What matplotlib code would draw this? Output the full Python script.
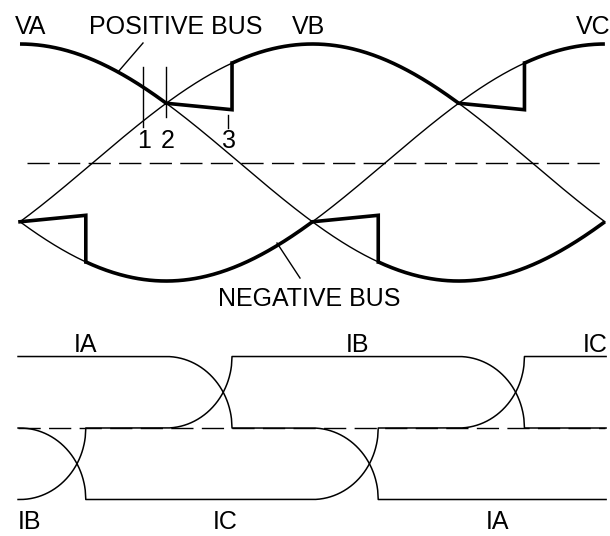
import numpy as np
import matplotlib.pyplot as plt

plt.rcParams["font.family"] = ["Liberation Sans", "DejaVu Sans"]
plt.rcParams["font.size"] = 18

# phase voltages: name, phase angle of the peak (deg)
phases = ["A", "B", "C"]
peak_deg = [0, 120, 240]
amp = 1.0
# natural commutation points and overlap angle (deg)
pos_comm = [60, 180]        # positive bus: A->B, B->C
neg_comm = [0, 120]         # negative bus: B->C, C->A
overlap = 27

# thin / thick pieces of each phase voltage (deg ranges)
thin_parts = {"A": [(60, 147)], "B": [(0, 87), (180, 240)], "C": [(0, 27), (120, 207)]}
thick_parts = {"A": [(0, 60), (147, 240)], "B": [(87, 180)], "C": [(27, 120), (207, 240)]}

# line current levels in each 60 deg step; commutation happens at cur_edges
cur_levels = {
    "A": [1, 1, 0, -1, -1],
    "B": [-1, 0, 1, 1, 0],
    "C": [0, -1, -1, 0, 1],
}
cur_edges = [0, 60, 120, 180]

marks = [50.5, 60, 85.3]
mark_labels = ["1", "2", "3"]

THICK = 2.6
THIN = 1.0


def v(name, th):
    k = phases.index(name)
    return amp * np.cos(np.radians(th - peak_deg[k]))


fig = plt.figure(figsize=(6.1, 5.36), dpi=100)
# px x = 20 + 2.437*deg
x0, sx = 20, 2.437
xlim = (-x0 / sx, (610 - x0) / sx)

# ---------------- voltages ----------------
ax = fig.add_axes([0, 0.4216, 1, 0.5784])
z0, sy = 162.5, 118.5
ax.set_xlim(*xlim)
ax.set_ylim((z0 - 310) / sy, z0 / sy)
ax.axis("off")

for ph in phases:
    for a, b in thin_parts[ph]:
        th = np.linspace(a, b, 200)
        ax.plot(th, v(ph, th), color="black", lw=THIN)
    for a, b in thick_parts[ph]:
        th = np.linspace(a, b, 200)
        ax.plot(th, v(ph, th), color="black", lw=THICK, solid_capstyle="butt")

# overlap segments: average of the two commutating phases, then jump
pairs_pos = [("A", "B"), ("B", "C")]
pairs_neg = [("B", "C"), ("C", "A")]
for start, (p1, p2) in list(zip(pos_comm, pairs_pos)) + list(zip(neg_comm, pairs_neg)):
    th = np.array([start, start + overlap])
    avg = (v(p1, th) + v(p2, th)) / 2
    ax.plot(np.r_[th, th[-1]], np.r_[avg, v(p2, th[-1])], color="black",
            lw=THICK, solid_joinstyle="miter")

ax.plot([(27 - x0) / sx, (605 - x0) / sx], [0, 0], color="black", lw=1.0,
        dashes=(16, 6))

# commutation markers
ax.plot([marks[0]] * 2, [0.806, 0.30], color="black", lw=1.0)
ax.plot([marks[1]] * 2, [0.806, 0.384], color="black", lw=1.0)
ax.plot([marks[2]] * 2, [0.40, 0.29], color="black", lw=1.0)
for m, lab in zip(marks, mark_labels):
    ax.text(m + 0.4, 0.18, lab, ha="center", va="center")

# labels
ax.text((31 - x0) / sx, (z0 - 27) / sy, "VA", ha="center", va="center")
ax.text((176 - x0) / sx, (z0 - 27) / sy, "POSITIVE BUS", ha="center", va="center")
ax.text((309 - x0) / sx, (z0 - 27) / sy, "VB", ha="center", va="center")
ax.text((593 - x0) / sx, (z0 - 27) / sy, "VC", ha="center", va="center")
ax.text((309 - x0) / sx, (z0 - 299) / sy, "NEGATIVE BUS", ha="center", va="center")
ax.plot([(143 - x0) / sx, (118 - x0) / sx], [(z0 - 43) / sy, (z0 - 72) / sy],
        color="black", lw=1.0)
ax.plot([(277 - x0) / sx, (300 - x0) / sx], [(z0 - 243) / sy, (z0 - 278) / sy],
        color="black", lw=1.0)

# ---------------- currents ----------------
bx = fig.add_axes([0, 0, 1, 0.4216])
c0, cy = 428, 71.5
bx.set_xlim(*xlim)
bx.set_ylim((c0 - 536) / cy, (c0 - 310) / cy)
bx.axis("off")

bx.plot([(18 - x0) / sx, (605 - x0) / sx], [0, 0], color="black", lw=1.0,
        dashes=(16, 6))

for ph in phases:
    lv = cur_levels[ph]
    xs, ys = [-0.8], [lv[0]]
    for k, e in enumerate(cur_edges):
        a, b = lv[k], lv[k + 1]
        xs.append(e)
        ys.append(a)
        if a != b:
            s = np.linspace(0, 1, 120)
            if abs(a) > abs(b):      # outgoing phase
                f = np.sqrt(1 - s ** 2)
                xs += list(e + overlap * s)
                ys += list(a * f)
            else:                    # incoming phase
                f = 1 - np.sqrt(1 - s ** 2)
                xs += list(e + overlap * s)
                ys += list(b * f)
    xs.append(240.5)
    ys.append(lv[-1])
    bx.plot(xs, ys, color="black", lw=1.1)

cur_top = [("IA", 85), ("IB", 357), ("IC", 595)]
cur_bot = [("IB", 30), ("IC", 225), ("IA", 497)]
for lab, px in cur_top:
    bx.text((px - x0) / sx, (c0 - 345) / cy, lab, ha="center", va="center")
for lab, px in cur_bot:
    bx.text((px - x0) / sx, (c0 - 522) / cy, lab, ha="center", va="center")

fig.savefig("out.png", dpi=100)
